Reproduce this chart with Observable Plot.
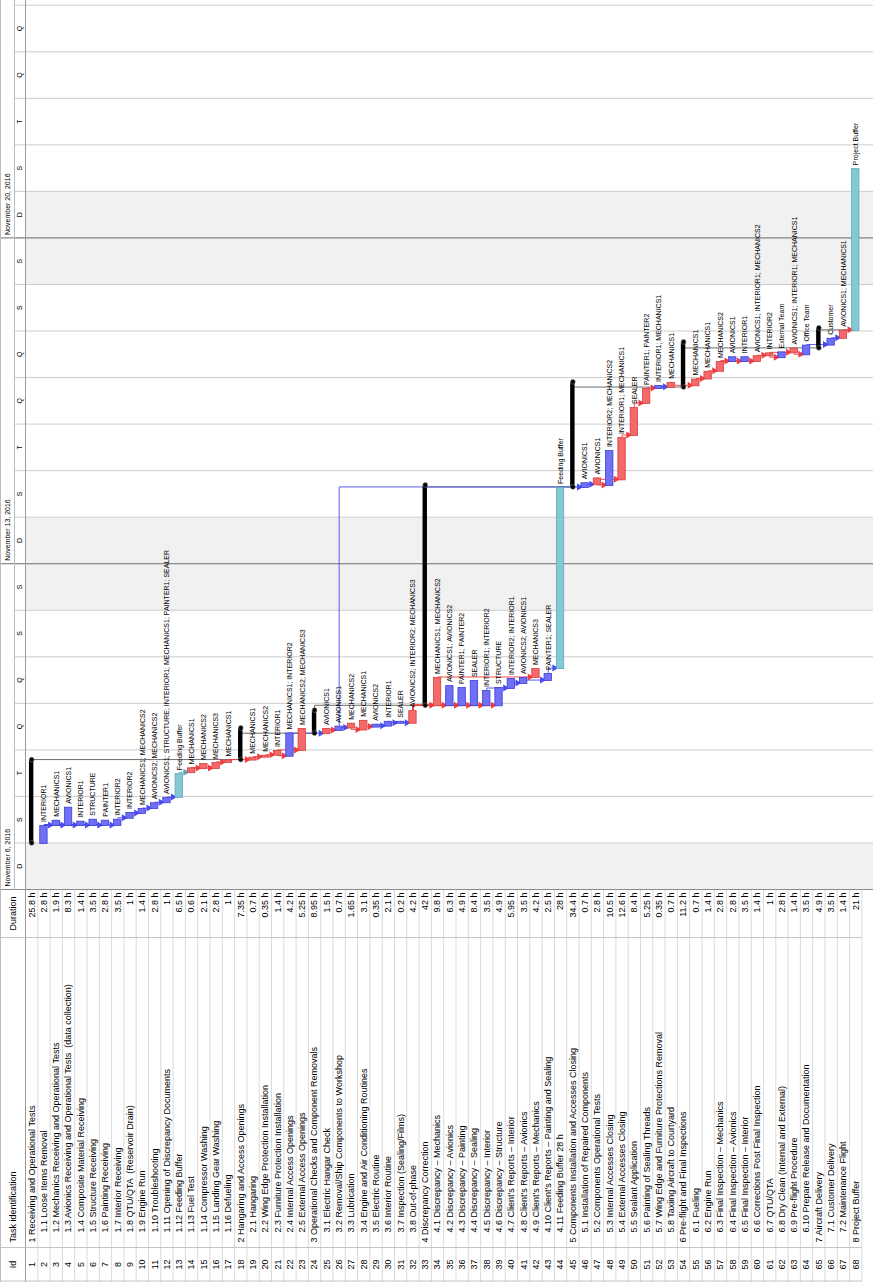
<!DOCTYPE html>
<html><head><meta charset="utf-8">
<script src="https://cdn.jsdelivr.net/npm/d3@7"></script>
<script src="https://cdn.jsdelivr.net/npm/@observablehq/plot@0.6"></script>
<style>
html,body{margin:0;padding:0;background:#fff;width:873px;height:1282px;overflow:hidden;}
#wrap{position:absolute;left:0;top:0;width:1282px;height:873px;transform-origin:0 0;transform:translate(0,1282px) rotate(-90deg);display:flex;background:#fff;}
#wrap svg{display:block;}
</style></head><body><div id="wrap"></div>
<script>
// ---------------- DATA ----------------
const taskNames = [
"1 Receiving and Operational Tests","1.1 Loose Items Removal","1.2 Mechanics Receiving and Operational Tests",
"1.3 Avionics Receiving and Operational Tests  (data collection)","1.4 Composite Material Receiving","1.5 Structure Receiving",
"1.6 Painting Receiving","1.7 Interior Receiving","1.8 QTU/QTA  (Reservoir Drain)","1.9 Engine Run","1.10 Troubleshooting",
"1.11 Opening of Discrepancy Documents","1.12 Feeding Buffer","1.13 Fuel Test","1.14 Compressor Washing","1.15 Landing Gear Washing",
"1.16 Defueling","2 Hangaring and Access Openings","2.1 Hangaring","2.2 Wing Edge Protection Installation",
"2.3 Furniture Protection Installation","2.4 Internal Access Openings","2.5 External Access Openings",
"3 Operational Checks and Component Removals","3.1 Electric Hangar Check","3.2 Removal/Ship Components to Workshop",
"3.3 Lubrication","3.4 Engine and Air Conditioning Routines","3.5 Electric Routine","3.6 Interior Routine",
"3.7 Inspection (Sealing/Films)","3.8 Out-of-phase","4 Discrepancy Correction","4.1 Discrepancy – Mechanics",
"4.2 Discrepancy – Avionics","4.3 Discrepancy – Painting","4.4 Discrepancy – Sealing","4.5 Discrepancy – Interior",
"4.6 Discrepancy – Structure","4.7 Client's Reports – Interior","4.8 Client's Reports – Avionics","4.9 Client's Reports – Mechanics",
"4.10 Client's Reports – Painting and Sealing","4.11 Feeding Buffer 28 h","5 Components Installation and Accesses Closing",
"5.1 Installation of Repaired Components","5.2 Components Operational Tests","5.3 Internal Accesses Closing",
"5.4 External Accesses Closing","5.5 Sealant Application","5.6 Painting of Sealing Threads",
"5.7 Wing Edge and Furniture Protections Removal","5.8 Taxiing Aircraft to Courtyard","6 Pre-flight and Final Inspections",
"6.1 Fueling","6.2 Engine Run","6.3 Final Inspection – Mechanics","6.4 Final Inspection – Avionics","6.5 Final Inspection – Interior",
"6.6 Corrections Post Final Inspection","6.7 QTU/QTA","6.8 Dry Clean (Internal and External)","6.9 Pre-flight Procedure",
"6.10 Prepare Release and Documentation","7 Aircraft Delivery","7.1 Customer Delivery","7.2 Maintenance Flight","8 Project Buffer"
];
const durations = ["25.8 h","2.8 h","1.9 h","8.3 h","1.4 h","3.5 h","2.8 h","3.5 h","1 h","1.4 h","2.8 h","1 h","6.5 h","0.6 h",
"2.1 h","2.8 h","1 h","7.35 h","0.7 h","0.35 h","1.4 h","4.2 h","5.25 h","8.95 h","1.5 h","0.7 h","1.65 h","3.1 h","0.35 h",
"2.1 h","0.2 h","4.2 h","42 h","9.8 h","6.3 h","4.9 h","8.4 h","3.5 h","4.9 h","5.95 h","3.5 h","4.2 h","2.5 h","28 h","34.4 h",
"0.7 h","2.8 h","10.5 h","12.6 h","8.4 h","5.25 h","0.35 h","0.7 h","11.2 h","0.7 h","1.4 h","2.8 h","2.8 h","3.5 h","1.4 h",
"1 h","2.8 h","1.4 h","3.5 h","4.9 h","3.5 h","1.4 h","21 h"];
// S = summary, N = normal (blue), C = critical (red), B = buffer
const kinds = ("S N N N N N N N N N N N B C C C C " +
  "S C C C N C " +
  "S C N C C N N N C " +
  "S C N N N N N N N C N B " +
  "S N C N C C C N C " +
  "S C C C N N C C N C N " +
  "S N C B").trim().split(/\s+/);
// start / finish, hours after November 6, 2016 00:00
const startH = [24,24,33.3,33.3,33.3,33.3,33.3,33.3,37,39.5,42,45,47.7,60.5,62.7,62.7,65.8,
  67,67,68.5,69.5,69,72,
  80.6,80.6,82.3,83.5,82.5,84,84.5,86,86,
  95,95,95,95,95,95,95,103.9,106.5,109.6,108,114.2,
  207.6,207.6,209,208.6,211.5,234.4,250.9,258.6,259.2,
  259.1,260,263.5,267.5,272.5,272.5,272.5,275.5,274.5,277,276,
  279.3,281,284.5,288.6];
const endH = [67,33.3,36,42.7,35.5,36.5,36,36.5,40,42,45,47.7,60,63,65.2,65.8,67,
  83.3,68.5,69.5,72,81,83.3,
  92.5,83.3,84.5,86,87.5,85.5,87,87,92.5,
  208.6,109.6,105.4,104.4,108,102.9,104.4,109.1,109.6,114.2,111.7,207.6,
  261.8,210,212.5,226.6,233.3,248.8,258.6,260.2,261.8,
  282.4,263.5,267.5,272.5,275,275,275.5,277,277.5,279.5,281,
  289.6,284.5,288.6,372];
const resources = ["","INTERIOR1","MECHANICS1","AVIONICS1","INTERIOR1","STRUCTURE","PAINTER1","INTERIOR2","INTERIOR2",
"MECHANICS1; MECHANICS2","AVIONICS2; MECHANICS2","AVIONICS1; STRUCTURE; INTERIOR1; MECHANICS1; PAINTER1; SEALER",
"Feeding Buffer","MECHANICS1","MECHANICS2","MECHANICS3","MECHANICS1",
"","MECHANICS1","MECHANICS2","INTERIOR1","MECHANICS1; INTERIOR2","MECHANICS2; MECHANICS3",
"","AVIONICS1","AVIONICS1","MECHANICS2","MECHANICS1","AVIONICS2","INTERIOR1","SEALER","AVIONICS2; INTERIOR2; MECHANICS3",
"","MECHANICS1; MECHANICS2","AVIONICS1; AVIONICS2","PAINTER1; PAINTER2","SEALER","INTERIOR1; INTERIOR2","STRUCTURE",
"INTERIOR2; INTERIOR1","AVIONICS2; AVIONICS1","MECHANICS3","PAINTER1; SEALER","Feeding Buffer",
"","AVIONICS1","AVIONICS1","INTERIOR2; MECHANICS2","INTERIOR1; MECHANICS1","SEALER","PAINTER1; PAINTER2",
"INTERIOR1; MECHANICS1","MECHANICS1",
"","MECHANICS1","MECHANICS1","MECHANICS2","AVIONICS1","INTERIOR1","AVIONICS1; INTERIOR1; MECHANICS2","INTERIOR2",
"External Team","AVIONICS1; INTERIOR1; MECHANICS1","Office Team",
"","Customer","AVIONICS1; MECHANICS1","Project Buffer"];
// task dependencies [predecessor id, successor id]
const taskLinks = [[2,3],[2,4],[2,5],[2,6],[2,7],[2,8],[8,9],[9,10],[10,11],[11,12],[12,13],[13,14],[14,15],[14,16],[16,17],
[17,19],[19,20],[20,21],[21,22],[21,23],[22,25],[25,26],[26,27],[27,28],[28,29],[29,30],[30,31],[31,32],
[32,34],[32,35],[32,36],[32,37],[32,38],[32,39],[38,40],[40,41],[34,42],[41,43],[43,44],
[44,46],[26,46],[46,47],[47,48],[47,49],[49,50],[50,51],[51,52],[52,53],
[53,55],[55,56],[56,57],[57,58],[57,59],[57,60],[60,61],[61,62],[61,63],[63,64],[64,66],[66,67],[67,68]];
const summaryLinks = [[1,18],[18,24],[24,33],[33,45],[45,54],[54,65],[65,68]];
const weekendDays = ["2016-11-06","2016-11-12","2016-11-13","2016-11-19","2016-11-20"];
const weekStarts = ["2016-11-06","2016-11-13","2016-11-20"];
const dayLetters = ["D","S","T","Q","Q","S","S"]; // Sunday..Saturday
const tableHeaders = ["Id","Task identification","Duration"];

// ---------------- LAYOUT ----------------
const W = 1282, H = 873, TABLE_W = 392, GANTT_W = W - TABLE_W;
const HEADER = 25, ROW_H = 12.3, TIER = 14;
const yTop = -HEADER / ROW_H, yBot = (H - HEADER) / ROW_H, yTier = yTop + TIER / ROW_H;
const FONT = "'Liberation Sans', Arial, Helvetica, sans-serif";
const FS = 9;
const HOUR = 3600e3, T0 = Date.UTC(2016, 10, 6);
const at = h => new Date(T0 + h * HOUR);
const DAY_PX = 46.54, SPAN_H = GANTT_W / DAY_PX * 24;

const fillColor = {S: "#000000", N: "#7070f4", C: "#f46a6a", B: "#84c8d4"};
const strokeColor = {S: "#000000", N: "#3d3dd9", C: "#d93d3d", B: "#5aaab8"};
const linkColor = {S: "#666666", N: "#4a4af0", C: "#f03c3c", B: "#5aaab8"};

const tasks = taskNames.map((name, i) => ({
  id: i + 1, name, dur: durations[i], kind: kinds[i], level: kinds[i] === "S" || i === 67 ? 0 : 1,
  start: at(startH[i]), end: at(endH[i]), res: resources[i]
}));
const byId = new Map(tasks.map(t => [t.id, t]));
const yc = t => t.id - 0.5;
const BAR = 0.3, SUM = 0.18;
const yHead = -HEADER / ROW_H / 2;

// ---------------- TABLE ----------------
const table = Plot.plot({
  width: TABLE_W, height: H, margin: 0,
  x: {domain: [0, TABLE_W], range: [0, TABLE_W], axis: null},
  y: {domain: [yTop, yBot], range: [0, H], axis: null},
  style: {fontFamily: FONT, background: "#fff"},
  marks: [
    Plot.ruleY(d3.range(1, 69), {x1: 0, x2: TABLE_W, stroke: "#cfcfcf", strokeWidth: 0.8}),
    Plot.ruleY([0], {x1: 0, x2: TABLE_W, stroke: "#9a9a9a", strokeWidth: 1}),
    Plot.ruleY([yTop], {x1: 0, x2: TABLE_W, stroke: "#bdbdbd"}),
    Plot.ruleX([0.5, 34, 344], {y1: yTop, y2: 68, stroke: "#bdbdbd", strokeWidth: 0.9}),
    Plot.text([tableHeaders[0]], {x: 17, y: yHead, text: d => d, textAnchor: "middle", fontSize: FS}),
    Plot.text([tableHeaders[1]], {x: 39, y: yHead, text: d => d, textAnchor: "start", fontSize: FS}),
    Plot.text([tableHeaders[2]], {x: 368, y: yHead, text: d => d, textAnchor: "middle", fontSize: FS}),
    Plot.text(tasks, {x: 17, y: yc, text: "id", textAnchor: "middle", fontSize: FS}),
    Plot.text(tasks, {x: d => d.level ? 49 : 39, y: yc, text: "name", textAnchor: "start", fontSize: FS}),
    Plot.text(tasks, {x: 389, y: yc, text: "dur", textAnchor: "end", fontSize: FS})
  ]
});

// ---------------- GANTT ----------------
const days = d3.range(0, Math.ceil(SPAN_H / 24)).map(i => ({
  start: at(24 * i), mid: at(24 * i + 12), letter: dayLetters[new Date(T0 + i * 864e5).getUTCDay()]
}));
const visibleDays = days.filter(d => +d.mid < T0 + SPAN_H * HOUR - 6 * HOUR);
const weekends = weekendDays.map(s => ({x1: new Date(s + "T00:00Z"), x2: new Date(new Date(s + "T00:00Z").getTime() + 864e5)}));
const weeks = weekStarts.map(s => new Date(s + "T00:00Z"));
const fmtWeek = d3.utcFormat("%B %-d, %Y");

const bars = tasks.filter(t => t.kind !== "S");
const sums = tasks.filter(t => t.kind === "S");
const links = taskLinks.map(([p, s]) => {
  const a = byId.get(p), b = byId.get(s);
  return {x1: a.end, y1: yc(a), x2: b.start, y2: yc(b) - BAR - 0.12, color: linkColor[a.kind]};
});
const sLinks = summaryLinks.map(([p, s]) => {
  const a = byId.get(p), b = byId.get(s);
  return {x1: a.end, y1: yc(a), x2: b.start, y2: yc(b) - SUM};
});

const gantt = Plot.plot({
  width: GANTT_W, height: H, margin: 0,
  x: {type: "utc", domain: [at(0), at(SPAN_H)], range: [0, GANTT_W], axis: null},
  y: {domain: [yTop, yBot], range: [0, H], axis: null},
  color: {type: "identity"},
  style: {fontFamily: FONT, background: "#fff", overflow: "hidden"},
  marks: [
    Plot.rect(weekends, {x1: "x1", x2: "x2", y1: 0, y2: yBot, fill: "#f1f1f1"}),
    Plot.ruleX(days.slice(1), {x: "start", y1: yTier, y2: yBot, stroke: "#cdcdcd", strokeWidth: 1}),
    Plot.ruleX(weeks, {y1: yTop, y2: yBot, stroke: "#8c8c8c", strokeWidth: 1.2}),
    Plot.ruleY([yTier], {stroke: "#bdbdbd"}),
    Plot.ruleY([0], {stroke: "#9a9a9a"}),
    Plot.ruleY([yTop], {stroke: "#bdbdbd"}),
    Plot.text(weeks, {x: d => d, y: (yTop + yTier) / 2, text: d => fmtWeek(d), textAnchor: "start", dx: 3, fontSize: 7}),
    Plot.text(visibleDays, {x: "mid", y: yTier / 2, text: "letter", fontSize: 7}),
    // summary-to-summary connectors
    Plot.link(sLinks, {x1: "x1", y1: "y1", x2: "x2", y2: "y2", curve: "step-after", stroke: "#6e6e6e", strokeWidth: 1}),
    // task dependencies
    Plot.link(links, {x1: "x1", y1: "y1", x2: "x2", y2: "y2", curve: "step-after", stroke: "color", strokeWidth: 0.9}),
    Plot.dot(links, {x: "x2", y: d => d.y2 - 0.08, symbol: "triangle", r: 2.6, rotate: 180, fill: "color", stroke: "none"}),
    // bars
    Plot.rect(bars, {x1: "start", x2: "end", y1: d => yc(d) - BAR, y2: d => yc(d) + BAR,
      fill: d => fillColor[d.kind], stroke: d => strokeColor[d.kind], strokeWidth: 0.8}),
    Plot.rect(sums, {x1: "start", x2: "end", y1: d => yc(d) - SUM, y2: d => yc(d) + SUM, fill: "#000"}),
    Plot.dot(sums, {x: "start", y: yc, r: 2.4, fill: "#000", stroke: "#777", strokeWidth: 0.6}),
    Plot.dot(sums, {x: "end", y: yc, r: 2.4, fill: "#000", stroke: "#777", strokeWidth: 0.6}),
    // resource labels
    Plot.text(bars.filter(d => d.res), {x: "end", y: yc, text: "res", textAnchor: "start", dx: 3, fontSize: 7})
  ]
});

const wrap = document.getElementById("wrap");
wrap.appendChild(table);
wrap.appendChild(gantt);
</script></body></html>
